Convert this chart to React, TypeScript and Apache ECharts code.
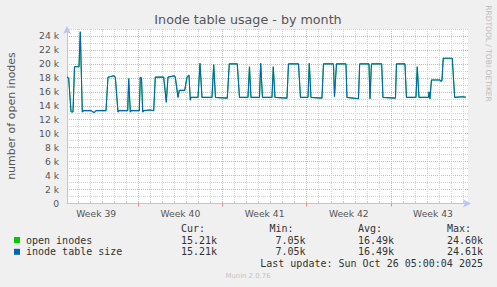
import React, { useEffect, useRef } from 'react';
import * as echarts from 'echarts';

// x values: days since Mon 22 Sep 2025 00:00 (start of Week 39)
const days = [
  1.073, 1.214, 1.406, 1.572, 1.697, 2.071, 2.179, 2.345, 2.45, 3.093,
  3.234, 3.359, 3.484, 4.315, 4.479, 4.98, 5.088, 5.313, 5.4, 6.119,
  6.202, 6.335, 6.42, 7.083, 7.166, 7.266, 7.366, 7.45, 7.973, 8.28,
  8.413, 9.111, 9.328, 9.469, 10.009, 10.076, 10.3, 10.408, 10.857, 11.048,
  11.214, 11.323, 11.381, 11.963, 12.129, 12.295, 13.126, 13.268, 13.417, 14.398,
  14.564, 15.229, 15.412, 16.119, 16.243, 16.368, 17.075, 17.175, 17.324, 18.114,
  18.222, 18.363, 19.361, 19.486, 20.317, 20.483, 21.106, 21.215, 21.356, 22.27,
  22.395, 23.226, 23.309, 23.476, 24.265, 24.349, 25.304, 25.404, 26.177, 26.26,
  26.385, 27.233, 27.341, 28.38, 28.463, 29.17, 29.294, 30.084, 30.192, 30.333,
  31.123, 31.165, 31.248, 31.372, 32.079, 32.162, 32.245, 32.353, 33.101, 33.301,
  34.0, 34.24,
];

const tableSize = [
  18150, 17950, 13150, 13100, 19600, 19600, 24610, 13100, 13300, 13300,
  13100, 13050, 13300, 13300, 18100, 18300, 18100, 13100, 13300, 13300,
  17900, 13100, 13300, 13300, 18100, 18000, 13100, 13300, 13400, 13300,
  18100, 18100, 14500, 18100, 18300, 18100, 15200, 16200, 16200, 18100,
  18400, 14800, 15200, 15200, 20100, 15200, 15200, 19900, 15200, 15100,
  20000, 20000, 15200, 15200, 19600, 15200, 15200, 20100, 15200, 15200,
  19600, 15200, 15100, 20000, 20000, 15200, 15200, 20100, 15200, 15100,
  20000, 20000, 15300, 20000, 20000, 15200, 15000, 20000, 20000, 15000,
  20000, 20000, 15200, 15100, 20000, 20000, 15200, 15200, 19600, 15200,
  15200, 16000, 15000, 17700, 17700, 17500, 17600, 20800, 20800, 15200,
  15300, 15210,
];

const openInodes = [
  18150, 17950, 13150, 13100, 19600, 19600, 24600, 13100, 13300, 13300,
  13100, 13050, 13300, 13300, 18100, 18300, 18100, 13100, 13300, 13300,
  17900, 13100, 13300, 13300, 18100, 18000, 13100, 13300, 13400, 13300,
  18100, 18100, 14500, 18100, 18300, 18100, 15200, 16200, 16200, 18100,
  18400, 14800, 15200, 15200, 20100, 15200, 15200, 19900, 15200, 15100,
  20000, 20000, 15200, 15200, 19600, 15200, 15200, 20100, 15200, 15200,
  19600, 15200, 15100, 20000, 20000, 15200, 15200, 20100, 15200, 15100,
  20000, 20000, 15300, 20000, 20000, 15200, 15000, 20000, 20000, 15000,
  20000, 20000, 15200, 15100, 20000, 20000, 15200, 15200, 19600, 15200,
  15200, 16000, 15000, 17700, 17700, 17500, 17600, 20800, 20800, 15200,
  15300, 15210,
];

const dayGrid = [
  2, 3, 4, 5, 6, 7, 8, 9, 10, 11, 12, 13, 14, 15, 16, 17, 18, 19, 20,
  21, 22, 23, 24, 25, 26, 27, 28, 29, 30, 31, 32, 33, 34,
];
const weekBoundaries = [7, 14, 21, 28];
const weekCenters = [3.5, 10.5, 17.5, 24.5, 31.5];
const weekLabels = ['Week 39', 'Week 40', 'Week 41', 'Week 42', 'Week 43'];

const xMin = 1.073;
const xMax = 34.41;
const yMin = 0;
const yMax = 25000;
const yStep = 1000;

const title = 'Inode table usage - by month';
const yName = 'number of open inodes';
const sideText = 'RRDTOOL / TOBI OETIKER';
const seriesNames = ['open inodes', 'inode table size'];
const seriesColors = ['#00cc00', '#0066b3'];
const statHeaders = ['Cur:', 'Min:', 'Avg:', 'Max:'];
const openStats = ['15.21k', '7.05k', '16.49k', '24.60k'];
const sizeStats = ['15.21k', '7.05k', '16.49k', '24.61k'];
const lastUpdate = 'Last update: Sun Oct 26 05:00:04 2025';
const footer = 'Munin 2.0.76';

const MONO = '10px "DejaVu Sans Mono"';
const SANS = '"DejaVu Sans"';
const RED = '#eeaaaa';
const GRAY = '#d2d2d2';
const AXIS = '#b9c1f6';

export default function App() {
  const ref = useRef<HTMLDivElement>(null);

  useEffect(() => {
    document.body.style.margin = '0';
    const chart = echarts.init(ref.current!, null, { renderer: 'svg' });

    const colRight = [217, 305.5, 394, 483];
    const graphics: any[] = [
      { type: 'text', x: 248, y: 19, style: { text: title, font: `12.7px ${SANS}`, fill: '#555', textAlign: 'center', textVerticalAlign: 'middle', align: 'center', verticalAlign: 'middle' } },
      { type: 'text', x: 11, y: 116, rotation: Math.PI / 2, style: { text: yName, font: `11px ${SANS}`, fill: '#555', textAlign: 'center', textVerticalAlign: 'middle', align: 'center', verticalAlign: 'middle' } },
      { type: 'text', x: 488.5, y: 53.5, rotation: -Math.PI / 2, style: { text: sideText, font: `7.5px ${SANS}`, fill: '#bbbbbb', textAlign: 'center', textVerticalAlign: 'middle', align: 'center', verticalAlign: 'middle' } },
      { type: 'text', x: 248, y: 276, style: { text: footer, font: `6.9px ${SANS}`, fill: '#c4c4c4', textAlign: 'center', textVerticalAlign: 'middle', align: 'center', verticalAlign: 'middle' } },
      { type: 'text', x: 483, y: 263.5, style: { text: lastUpdate, font: MONO, fill: '#333', textAlign: 'right', textVerticalAlign: 'middle', align: 'right', verticalAlign: 'middle' } },
    ];
    statHeaders.forEach((h, i) => {
      graphics.push({ type: 'text', x: colRight[i] - 36, y: 228, style: { text: h, font: MONO, fill: '#333', textAlign: 'left', textVerticalAlign: 'middle', align: 'left', verticalAlign: 'middle' } });
    });
    const rows = [openStats, sizeStats];
    const rowY = [240, 251.8];
    rows.forEach((row, r) => {
      graphics.push({ type: 'rect', shape: { x: 14, y: rowY[r] - 3, width: 6, height: 6 }, style: { fill: seriesColors[r] } });
      graphics.push({ type: 'text', x: 26, y: rowY[r], style: { text: seriesNames[r], font: MONO, fill: '#333', textAlign: 'left', textVerticalAlign: 'middle', align: 'left', verticalAlign: 'middle' } });
      row.forEach((v, i) => {
        graphics.push({ type: 'text', x: colRight[i], y: rowY[r], style: { text: v, font: MONO, fill: '#333', textAlign: 'right', textVerticalAlign: 'middle', align: 'right', verticalAlign: 'middle' } });
      });
    });

    const labelFont = { color: '#555', fontSize: 9.2, fontFamily: 'DejaVu Sans' };

    chart.setOption({
      animation: false,
      backgroundColor: '#f0f0f0',
      grid: {
        left: 67, right: 29, top: 29, bottom: 83.5,
        show: true, backgroundColor: '#ffffff', borderWidth: 0,
        containLabel: false, outerBoundsMode: 'none',
      },
      xAxis: [
        {
          type: 'value', min: xMin, max: xMax, position: 'bottom',
          axisLine: { show: true, onZero: false, lineStyle: { color: AXIS, width: 1 }, symbol: ['none', 'arrow'], symbolSize: [6, 8], symbolOffset: [0, 3] },
          axisTick: { show: true, customValues: dayGrid, inside: true, length: 2, lineStyle: { color: '#c8c8c8' } },
          axisLabel: { show: false },
          splitLine: { show: true, lineStyle: { color: GRAY, type: [1, 1], width: 1 } },
        },
        {
          type: 'value', min: xMin, max: xMax, position: 'bottom',
          axisLine: { show: false, onZero: false },
          axisTick: { show: true, customValues: weekBoundaries, length: 3, lineStyle: { color: '#e88888' } },
          axisLabel: {
            show: true, customValues: weekCenters, margin: 5, ...labelFont,
            formatter: (v: number) => {
              const i = weekCenters.findIndex((c) => Math.abs(c - v) < 1e-6);
              return i >= 0 ? weekLabels[i] : '';
            },
          },
          splitLine: { show: true, lineStyle: { color: RED, type: [1, 1], width: 1 } },
        },
      ],
      yAxis: {
        type: 'value', min: yMin, max: yMax, interval: yStep,
        axisLine: { show: true, lineStyle: { color: AXIS, width: 1 }, symbol: ['none', 'arrow'], symbolSize: [6, 8], symbolOffset: [0, 3] },
        axisTick: { show: false },
        axisLabel: {
          margin: 8, ...labelFont,
          formatter: (v: number) => (v % 2000 === 0 ? (v === 0 ? '0' : `${v / 1000} k`) : ''),
        },
        splitLine: { show: true, lineStyle: { color: [RED, GRAY], type: [1, 1], width: 1 } },
      },
      series: [
        {
          name: seriesNames[0], type: 'line', xAxisIndex: 0, showSymbol: false,
          data: days.map((d, i) => [d, openInodes[i]]),
          lineStyle: { color: seriesColors[0], width: 1 }, itemStyle: { color: seriesColors[0] }, z: 3,
        },
        {
          name: seriesNames[1], type: 'line', xAxisIndex: 0, showSymbol: false,
          data: days.map((d, i) => [d, tableSize[i]]),
          lineStyle: { color: seriesColors[1], width: 1.1 }, itemStyle: { color: seriesColors[1] }, z: 4,
        },
      ],
      graphic: graphics,
    });

    return () => chart.dispose();
  }, []);

  return <div ref={ref} style={{ width: 497, height: 287 }} />;
}
